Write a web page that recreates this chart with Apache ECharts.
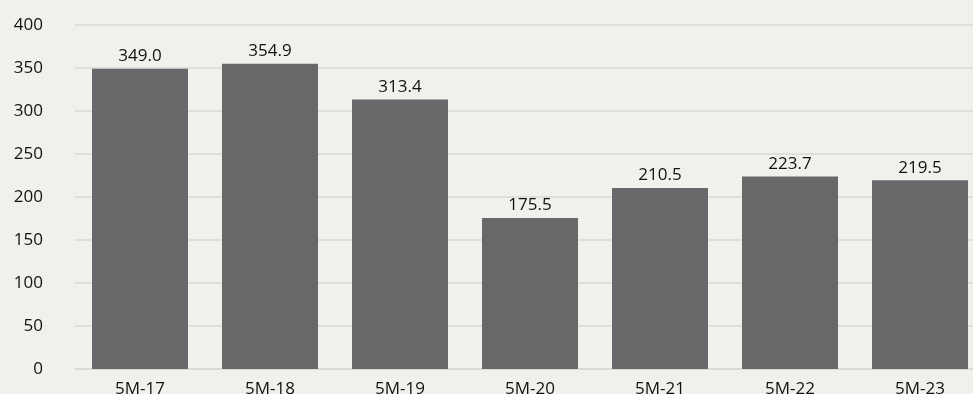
<!DOCTYPE html>
<html>
<head>
<meta charset="utf-8">
<script src="https://cdn.jsdelivr.net/npm/echarts@6/dist/echarts.min.js"></script>
<style>
  html, body { margin: 0; padding: 0; background: #f0f0ec; }
  #bar { width: 973px; height: 394px; }
</style>
</head>
<body>
<div id="bar"></div>
<script>
// data
var categories = ['5M-17', '5M-18', '5M-19', '5M-20', '5M-21', '5M-22', '5M-23'];
var values = [349.0, 354.9, 313.4, 175.5, 210.5, 223.7, 219.5];
var yTicks = { min: 0, max: 400, interval: 50 };

var myChart = echarts.init(document.getElementById('bar'));

var option = {
    backgroundColor: '#f0f0ec',
    animation: false,
    textStyle: { fontFamily: 'Open Sans' },
    grid: {
        left: 75,
        top: 25,
        width: 910,
        bottom: 25,
        outerBoundsMode: 'none',
        containLabel: false
    },
    xAxis: {
        type: 'category',
        data: categories,
        axisLine: { show: true, lineStyle: { color: '#d9d9d5', width: 1.5 } },
        axisTick: { show: false },
        axisLabel: { color: '#111111', fontSize: 17, margin: 12 }
    },
    yAxis: {
        type: 'value',
        min: yTicks.min,
        max: yTicks.max,
        interval: yTicks.interval,
        axisLine: { show: false },
        axisTick: { show: false },
        axisLabel: { color: '#111111', fontSize: 17, margin: 32 },
        splitLine: { lineStyle: { color: '#d9d9d5', width: 1.5 } }
    },
    series: [{
        type: 'bar',
        data: values,
        barWidth: 96,
        itemStyle: { color: '#68686a' },
        label: {
            show: true,
            position: 'top',
            distance: 4,
            color: '#111111',
            fontSize: 17,
            formatter: function (p) { return p.value.toFixed(1); }
        }
    }]
};

myChart.setOption(option);
</script>
</body>
</html>
